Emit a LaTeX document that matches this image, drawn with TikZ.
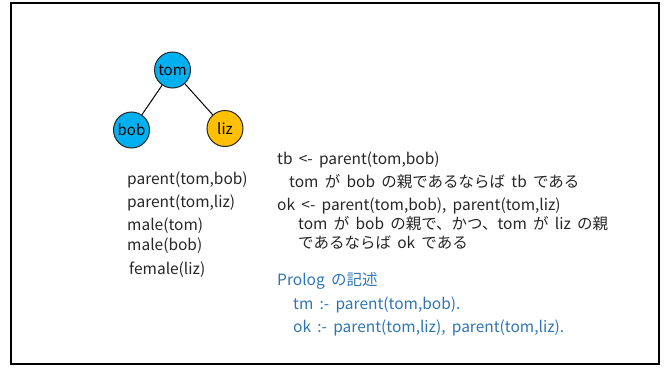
\documentclass[tikz,border=0pt]{standalone}
\usepackage{fontspec}
\setmainfont[WordSpace=1.8]{Noto Sans CJK JP}
\definecolor{nodeblue}{HTML}{00B0F0}
\definecolor{nodeorange}{HTML}{FFC000}
\definecolor{prologblue}{HTML}{2E75B6}
\definecolor{textgray}{HTML}{262626}
\tikzset{
  person/.style={circle,draw=black!85,line width=1pt,minimum size=36pt,inner sep=0pt,font=\fontsize{15}{17}\selectfont},
  fact/.style={anchor=west,inner sep=0pt,text=textgray,font=\fontsize{15.5}{18}\selectfont},
  code/.style={fact,text=prologblue}
}
\begin{document}
\begin{tikzpicture}[x=1pt,y=-1pt]
  \useasboundingbox (0,0) rectangle (667,367);
  \draw [line width=2.5pt] (11,3) rectangle (659,364);
  % family tree
  \node (tom) [person,fill=nodeblue] at (172.5,70) {tom};
  \node (bob) [person,fill=nodeblue] at (131.5,130) {bob};
  \node (liz) [person,fill=nodeorange] at (225,128.5) {liz};
  \draw [line width=1pt] (tom) -- (bob);
  \draw [line width=1pt] (tom) -- (liz);
  % facts
  \node (f1) [fact] at (127,180) {parent(tom,bob)};
  \node (f2) [fact] at (127,203) {parent(tom,liz)};
  \node (f3) [fact] at (127,226) {male(tom)};
  \node (f4) [fact] at (127,246) {male(bob)};
  \node (f5) [fact] at (129,270) {female(liz)};
  % rules
  \node (r1) [fact] at (277,160) {tb <- parent(tom,bob)};
  \node (r1a) [fact] at (289,182) {tom が bob の親であるならば tb である};
  \node (r2) [fact] at (277,206) {ok <- parent(tom,bob), parent(tom,liz)};
  \node (r2a) [fact] at (298,224) {tom が bob の親で、かつ、tom が liz の親};
  \node (r2b) [fact] at (298,243) {であるならば ok である};
  % prolog
  \node (p0) [code] at (277,281) {Prolog の記述};
  \node (p1) [code] at (293,305) {tm :- parent(tom,bob).};
  \node (p2) [code] at (293,328) {ok :- parent(tom,liz), parent(tom,liz).};
\end{tikzpicture}
\end{document}
